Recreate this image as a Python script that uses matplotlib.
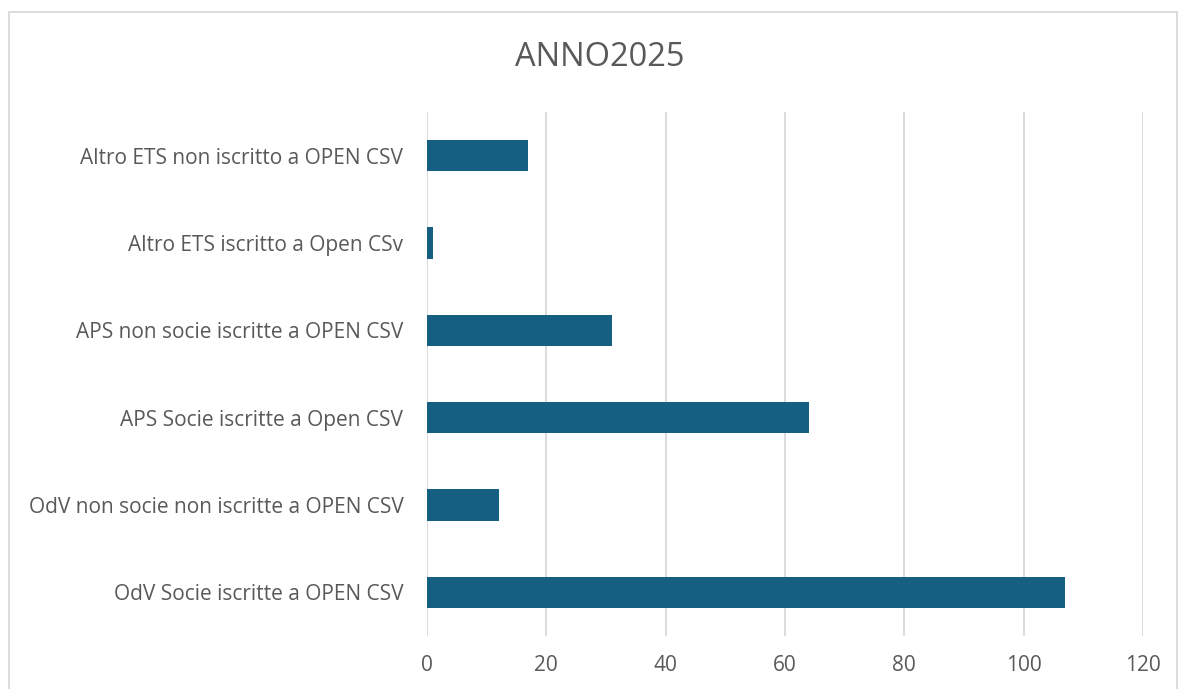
import matplotlib.pyplot as plt
from matplotlib.patches import Rectangle

categorie = [
    "OdV Socie iscritte a OPEN CSV",
    "OdV non socie non iscritte a OPEN CSV",
    "APS Socie iscritte a Open CSV",
    "APS non socie iscritte a OPEN CSV",
    "Altro ETS iscritto a Open CSv",
    "Altro ETS non iscritto a OPEN CSV",
]
valori = [107, 12, 64, 31, 1, 17]
ticks_x = [0, 20, 40, 60, 80, 100, 120]

plt.rcParams['font.family'] = ['Open Sans', 'DejaVu Sans']

fig = plt.figure(figsize=(11.78, 6.89), dpi=100)
ax = fig.add_axes([427 / 1178, 1 - 636 / 689, (1143 - 427) / 1178, (636 - 112) / 689])

pos = list(range(len(categorie)))
ax.barh(pos, valori, height=0.355, color='#156082', zorder=3)

ax.set_xlim(0, 120)
ax.set_ylim(-0.5, len(categorie) - 0.5)
ax.set_xticks(ticks_x)
ax.set_yticks(pos)
ax.set_yticklabels(categorie)
ax.grid(axis='x', color='#d9d9d9', linewidth=1.3, zorder=0)
ax.tick_params(axis='both', length=0, labelsize=15, labelcolor='#595959')
ax.tick_params(axis='x', pad=14)
ax.tick_params(axis='y', pad=17)
for s in ax.spines.values():
    s.set_visible(False)

fig.text(600 / 1178, 1 - 57 / 689, "ANNO2025", ha='center', va='center',
         fontsize=23.5, color='#595959')

fig.patches.append(Rectangle((9 / 1178, -0.01), 1168 / 1178, 1 - 12 / 689 + 0.01,
                             transform=fig.transFigure, fill=False,
                             edgecolor='#d9d9d9', linewidth=1.3))

fig.savefig("out.png", dpi=100)
